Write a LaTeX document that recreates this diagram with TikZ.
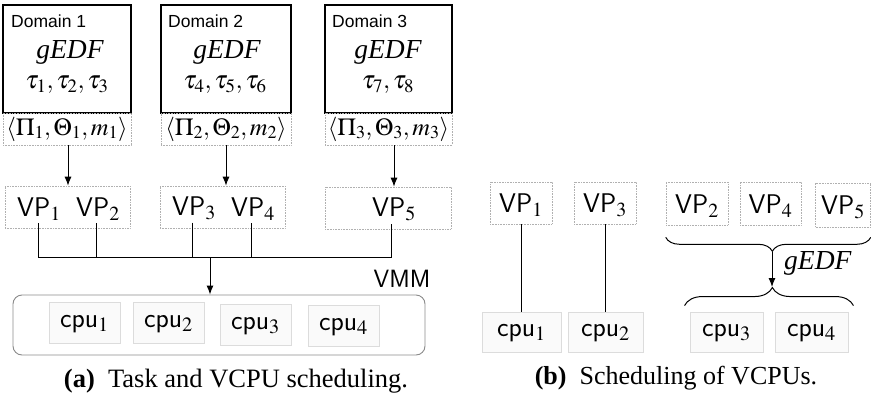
\documentclass[tikz,border=0pt]{standalone}
\usepackage{mathptmx}
\usepackage{fontspec}
\setmainfont{Liberation Serif}
\newfontfamily\arialf{Liberation Sans}
\usetikzlibrary{arrows.meta,decorations.pathreplacing}
\definecolor{dotgray}{HTML}{B0B0B0}
\definecolor{cpuedge}{HTML}{DCDCDC}
\definecolor{cpufill}{HTML}{FAFAFA}
\definecolor{hostedge}{HTML}{8A8A8A}
\begin{document}
\begin{tikzpicture}[x=1pt,y=-1pt,
  dombox/.style={draw=black,line width=1.2pt,inner sep=0pt,minimum height=108pt},
  parbox/.style={draw=dotgray,densely dotted,line width=0.6pt,inner sep=0pt,minimum height=32pt,font=\fontsize{24.5}{28}\selectfont},
  vpbox/.style={draw=dotgray,densely dotted,line width=0.6pt,inner sep=0pt,minimum height=42pt},
  rvpbox/.style={vpbox,font=\sffamily\fontsize{27}{30}\selectfont,text height=19pt,text depth=0pt},
  cpubox/.style={draw=cpuedge,fill=cpufill,line width=0.9pt,inner sep=0pt,minimum height=41pt,font=\sffamily\fontsize{27.5}{30}\selectfont,text height=12pt,text depth=3pt},
  domlbl/.style={font=\arialf\fontsize{17.5}{20}\selectfont,inner sep=0pt,anchor=base west},
  gtxt/.style={font=\itshape\fontsize{27.5}{30}\selectfont,inner sep=0pt},
  mtxt/.style={font=\fontsize{25.5}{28}\selectfont,inner sep=0pt},
  vpt/.style={font=\sffamily\fontsize{27}{30}\selectfont,inner sep=0pt,anchor=base west},
  conn/.style={line width=1pt},
  arr/.style={line width=1pt,-{Latex[length=9pt,width=7pt]}},
  brc/.style={line width=1pt,decorate,decoration={brace,amplitude=14pt,aspect=0.52}},
  capt/.style={font=\fontsize{26.5}{30}\selectfont,inner sep=0pt}
]
\useasboundingbox (0,0) rectangle (871,399);

% ---------- (a) domains ----------
\node[dombox,minimum width=128pt] (d1) at (67,59) {};
\node[dombox,minimum width=130pt] (d2) at (226,59) {};
\node[dombox,minimum width=127pt] (d3) at (388.5,59) {};
\node[domlbl] (l1) at (11,27.5) {Domain 1};
\node[domlbl] (l2) at (168,27.5) {Domain 2};
\node[domlbl] (l3) at (332,27.5) {Domain 3};
\node[gtxt] (g1) at (70,52) {gEDF};
\node[gtxt] (g2) at (227,52) {gEDF};
\node[gtxt] (g3) at (388,52) {gEDF};
\node[mtxt] (t1) at (67,85) {$\tau_1,\tau_2,\tau_3$};
\node[mtxt] (t2) at (225,85) {$\tau_4,\tau_5,\tau_6$};
\node[mtxt] (t3) at (388,85) {$\tau_7,\tau_8$};
\node[parbox,minimum width=128pt] (p1) at (67,129) {$\langle\Pi_1,\Theta_1,m_1\rangle$};
\node[parbox,minimum width=130pt] (p2) at (226,129) {$\langle\Pi_2,\Theta_2,m_2\rangle$};
\node[parbox,minimum width=127pt] (p3) at (388.5,129) {$\langle\Pi_3,\Theta_3,m_3\rangle$};

% ---------- VP boxes ----------
\node[vpbox,minimum width=125pt] (b12) at (67.5,207) {};
\node[vpbox,minimum width=125pt] (b34) at (222.5,207) {};
\node[vpbox,minimum width=126pt] (b5) at (388,208) {};
\node[vpt] (vp1) at (17,216) {VP$_1$};
\node[vpt] (vp2) at (76,216) {VP$_2$};
\node[vpt] (vp3) at (172,215) {VP$_3$};
\node[vpt] (vp4) at (231,216) {VP$_4$};
\node[vpt] (vp5) at (372,216) {VP$_5$};

\draw[arr] (p1.south -| b12.north) ++(0.5,0) coordinate (a1) -- (a1 |- b12.north);
\draw[arr] (p2.south) -- (p2.south |- b34.north);
\coordinate (a3) at (394,0);
\draw[arr] (a3 |- p3.south) -- (a3 |- b5.north);

\coordinate (s1) at ([xshift=21pt,yshift=-3pt]vp1.south west);
\coordinate (s2) at ([xshift=20pt,yshift=-3pt]vp2.south west);
\coordinate (s3) at ([xshift=20pt,yshift=-3pt]vp3.south west);
\coordinate (s4) at ([xshift=20pt,yshift=-3pt]vp4.south west);
\coordinate (s5) at ([xshift=19pt,yshift=-3pt]vp5.south west);
\coordinate (bus) at (210,257);
\draw[conn] (s1) -- (s1 |- bus) -- (s5 |- bus) -- (s5);
\draw[conn] (s2) -- (s2 |- bus);
\draw[conn] (s3) -- (s3 |- bus);
\draw[conn] (s4) -- (s4 |- bus);

% ---------- host ----------
\node[draw=hostedge,rounded corners=9pt,line width=0.9pt,minimum width=412pt,minimum height=60pt,inner sep=0pt] (host) at (219,325) {};
\draw[arr] (bus) -- (bus |- host.north);
\node[font=\sffamily\fontsize{25}{28}\selectfont,inner sep=0pt] (vmm) at (402,278.5) {VMM};
\node[cpubox,minimum width=71pt] (c1) at (84.5,322.5) {cpu$_1$};
\node[cpubox,minimum width=71pt] (c2) at (168.5,323) {cpu$_2$};
\node[cpubox,minimum width=71pt] (c3) at (255.5,324.5) {cpu$_3$};
\node[cpubox,minimum width=71pt] (c4) at (343.5,325.5) {cpu$_4$};

\node[capt] (capa) at (236,381) {\textbf{(a)}\enspace Task and VCPU scheduling.};

% ---------- (b) ----------
\node[rvpbox,minimum width=62pt] (r1) at (521,203) {VP$_1$};
\node[rvpbox,minimum width=62pt] (r3) at (605,203) {VP$_3$};
\node[rvpbox,minimum width=62pt,minimum height=43pt] (r2) at (697,203.5) {VP$_2$};
\node[rvpbox,minimum width=61pt,minimum height=43pt] (r4) at (770.5,203.5) {VP$_4$};
\node[rvpbox,minimum width=55pt,minimum height=44pt] (r5) at (843,205) {VP$_5$};

\node[cpubox,minimum width=79pt,minimum height=40pt] (rc1) at (521.5,332) {cpu$_1$};
\node[cpubox,minimum width=75pt,minimum height=40pt] (rc2) at (605.5,332) {cpu$_2$};
\node[cpubox,minimum width=73pt,minimum height=40pt] (rc3) at (726.5,332) {cpu$_3$};
\node[cpubox,minimum width=73pt,minimum height=40pt] (rc4) at (811.5,332) {cpu$_4$};

\draw[conn] (r1.south) -- (r1.south |- rc1.north);
\draw[conn] (r3.south) -- (r3.south |- rc2.north);

\coordinate (ub1) at ([yshift=-12pt]r2.south west);
\coordinate (ub2) at (ub1 -| r5.east);
\draw[brc,decoration={mirror}] (ub1) -- (ub2);
\coordinate (lb1) at ([yshift=6pt]rc3.north west);
\coordinate (lb2) at (lb1 -| rc4.east);
\draw[brc,decoration={amplitude=18pt}] ([xshift=-5pt]lb1) -- ([xshift=5pt]lb2);
\coordinate (ut) at (772,252);
\coordinate (lt) at (772,287);
\draw[arr] (ut) -- (lt);
\node[gtxt,anchor=west] (ge) at (784,263) {gEDF};

\node[capt,font=\fontsize{26}{30}\selectfont] (capb) at (676,378) {\textbf{(b)}\enspace Scheduling of VCPUs.};
\end{tikzpicture}
\end{document}
